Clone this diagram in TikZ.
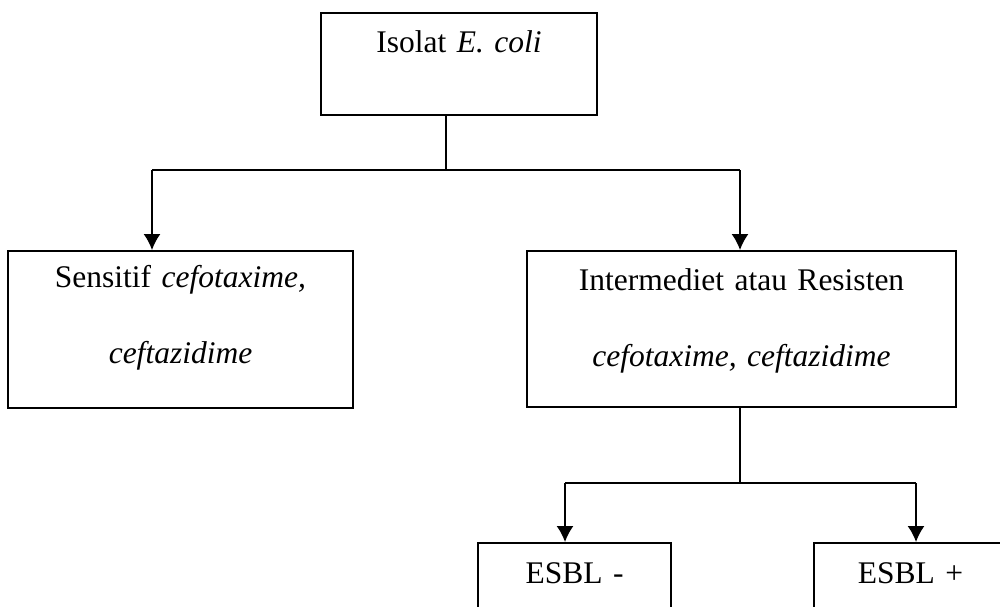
\documentclass[tikz,border=0pt]{standalone}
\usepackage{fontspec}
\setmainfont{Liberation Serif}
\usetikzlibrary{arrows.meta}
\begin{document}
\begin{tikzpicture}[x=1pt,y=-1pt,
  box/.style={draw, line width=1.6pt, anchor=north, inner xsep=0pt, inner ysep=0pt,
    align=center, font=\fontsize{31.5}{76}\selectfont},
  conn/.style={line width=1.6pt},
  arr/.style={line width=1.6pt, -{Latex[length=16pt,width=17pt]}}]
\useasboundingbox (0,0) rectangle (1000,606);
\clip (0,0) rectangle (1000,606);
\fill[white] (0,0) rectangle (1000,606);

\node[box, text width=276pt, text height=40pt, text depth=62pt] (top) at (459,12) {Isolat \textit{E. coli}};
\node[box, text width=345pt, text height=37pt, text depth=120pt] (sens) at (180.5,250)
  {Sensitif \textit{cefotaxime,}\\ \textit{ceftazidime}};
\node[box, text width=429pt, text height=40pt, text depth=116pt] (res) at (741.5,250)
  {Intermediet atau Resisten\\ \textit{cefotaxime, ceftazidime}};
\node[box, text width=193pt, text height=41pt, text depth=70pt] (neg) at (574.5,542) {ESBL -};
\node[box, text width=193pt, text height=41pt, text depth=70pt] (pos) at (910.5,542) {ESBL +};

\coordinate (j1) at (446,170);
\coordinate (bl) at (152,170);
\coordinate (br) at (740,170);
\draw[conn] (top.south -| j1) -- (j1);
\draw[conn] (bl) -- (br);
\draw[arr] (bl) -- (bl |- sens.north);
\draw[arr] (br) -- (br |- res.north);

\coordinate (j2) at (740,483);
\coordinate (cl) at (565,483);
\coordinate (cr) at (916,483);
\draw[conn] (res.south -| j2) -- (j2);
\draw[conn] (cl) -- (cr);
\draw[arr] (cl) -- (cl |- neg.north);
\draw[arr] (cr) -- (cr |- pos.north);
\end{tikzpicture}
\end{document}
